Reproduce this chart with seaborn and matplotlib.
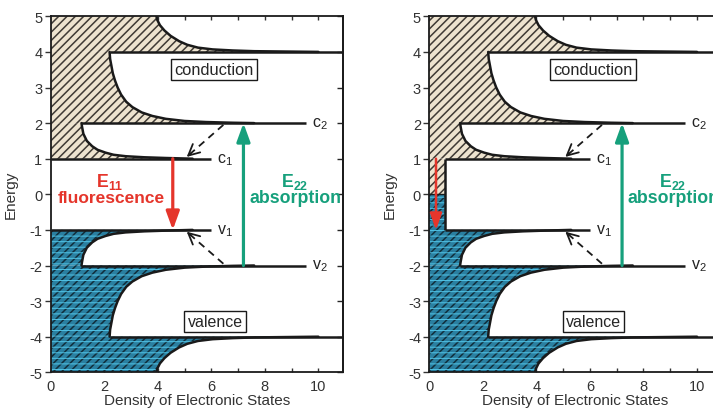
import numpy as np
import pandas as pd
import matplotlib
matplotlib.use("Agg")
import matplotlib.pyplot as plt
import seaborn as sns

sns.set_theme(style="ticks")
plt.rcParams['font.family'] = ['Liberation Sans', 'DejaVu Sans']
plt.rcParams['mathtext.fontset'] = 'custom'
plt.rcParams['mathtext.rm'] = 'Liberation Sans'
plt.rcParams['mathtext.it'] = 'Liberation Sans:italic'
plt.rcParams['mathtext.bf'] = 'Liberation Sans:bold'
plt.rcParams['axes.unicode_minus'] = False
plt.rcParams['hatch.linewidth'] = 1.1

# --- density of states edges (dos, energy) ---
# conduction band
c1_E = [2.0, 1.9, 1.7, 1.5, 1.35, 1.25, 1.17, 1.11, 1.07, 1.04, 1.02, 1.0]
c1_dos = [1.15, 1.17, 1.22, 1.35, 1.55, 1.75, 2.05, 2.35, 2.8, 3.5, 4.3, 5.3]
c2_E = [4.0, 3.8, 3.6, 3.4, 3.2, 3.0, 2.8, 2.6, 2.45, 2.3, 2.2, 2.12, 2.06, 2.03, 2.01, 2.0]
c2_dos = [2.2, 2.22, 2.27, 2.32, 2.40, 2.50, 2.63, 2.82, 3.05, 3.4, 3.8, 4.3, 5.0, 5.8, 6.8, 7.6]
c3_E = [5.0, 4.9, 4.75, 4.6, 4.45, 4.3, 4.2, 4.12, 4.07, 4.04, 4.02, 4.01, 4.0]
c3_dos = [3.95, 3.98, 4.08, 4.25, 4.48, 4.8, 5.1, 5.5, 6.05, 6.8, 7.6, 8.8, 10.0]
# valence band
v1_E = [-2.0, -1.9, -1.7, -1.5, -1.35, -1.25, -1.17, -1.11, -1.07, -1.04, -1.02, -1.0]
v1_dos = [1.15, 1.17, 1.22, 1.35, 1.55, 1.75, 2.05, 2.35, 2.8, 3.5, 4.3, 5.3]
v2_E = [-4.0, -3.8, -3.6, -3.4, -3.2, -3.0, -2.8, -2.6, -2.45, -2.3, -2.2, -2.12, -2.06, -2.03, -2.01, -2.0]
v2_dos = [2.2, 2.22, 2.27, 2.32, 2.40, 2.50, 2.63, 2.82, 3.05, 3.4, 3.8, 4.3, 5.0, 5.8, 6.8, 7.6]
v3_E = [-5.0, -4.9, -4.75, -4.6, -4.45, -4.3, -4.2, -4.12, -4.07, -4.04, -4.02, -4.01, -4.0]
v3_dos = [3.95, 3.98, 4.08, 4.25, 4.48, 4.8, 5.1, 5.5, 6.05, 6.8, 7.6, 8.8, 10.0]

# van Hove singularity lines: energy, start, end
level_E = [1, 2, 4, -1, -2, -4]
level_start = [0.0, 1.15, 2.2, 0.0, 1.15, 2.2]
level_end = [6.0, 9.55, 12.0, 6.0, 9.55, 12.0]
level_labels = ['c$_1$', 'c$_2$', None, 'v$_1$', 'v$_2$', None]

# metallic tube: constant DOS in the gap
metal_dos = 0.6

# transitions
e11_dos = 4.56
e22_dos = 7.2
metal_arrow_dos = 0.25

beige = '#ede3cf'
beige_hatch = '#3f3a35'
blue = '#2a7fa0'
blue_hatch = '#112e3b'
cyan = '#52c4e6'
red = '#e5352b'
green = '#16a07c'


def edges_frame():
    rows = []
    for name, E, d in [('c1', c1_E, c1_dos), ('c2', c2_E, c2_dos), ('c3', c3_E, c3_dos),
                       ('v1', v1_E, v1_dos), ('v2', v2_E, v2_dos), ('v3', v3_E, v3_dos)]:
        rows.append(pd.DataFrame({'energy': E, 'dos': d, 'segment': name}))
    return pd.concat(rows, ignore_index=True)


def fill_band(ax, E, d, conduction):
    if conduction:
        ax.fill_betweenx(E, 0, d, facecolor=beige, edgecolor=beige_hatch, hatch='////', lw=0)
    else:
        ax.fill_betweenx(E, 0, d, facecolor=blue, edgecolor=blue_hatch, hatch='////', lw=0)
        with plt.rc_context({'hatch.linewidth': 0.7}):
            ax.fill_betweenx(E, 0, d, facecolor='none', edgecolor=cyan, hatch='---', lw=0)


def draw_panel(ax, metallic):
    df = edges_frame()
    fill_band(ax, c1_E, c1_dos, True)
    fill_band(ax, c2_E, c2_dos, True)
    fill_band(ax, c3_E, c3_dos, True)
    fill_band(ax, v1_E, v1_dos, False)
    fill_band(ax, v2_E, v2_dos, False)
    fill_band(ax, v3_E, v3_dos, False)

    starts = list(level_start)
    if metallic:
        fill_band(ax, [0, 1], [metal_dos, metal_dos], True)
        fill_band(ax, [-1, 0], [metal_dos, metal_dos], False)
        starts = [metal_dos if abs(e) == 1 else s for e, s in zip(level_E, level_start)]
        ax.vlines(metal_dos, -1, 1, color='k', lw=1.8)
        ax.hlines(0, 0, metal_dos, color='k', lw=1.0)

    sns.lineplot(data=df, x='dos', y='energy', units='segment', estimator=None,
                 sort=False, color='k', lw=1.8, ax=ax, legend=False)
    ax.hlines(level_E, starts, level_end, color='k', lw=1.8)
    for e, end, lab in zip(level_E, level_end, level_labels):
        if lab:
            ax.text(end + 0.22, e, lab, fontsize=11.5, va='center', ha='left', color='#222222')

    # dashed relaxation arrows
    for sgn in (1, -1):
        start = (6.45, 1.95 * sgn)
        end = (5.08, 1.05 * sgn)
        ax.plot([start[0], end[0]], [start[1], end[1]], color='k', lw=1.3, ls=(0, (4, 3)))
        ax.annotate('', xy=end, xytext=(end[0] + 0.15, end[1] + 0.1 * sgn),
                    arrowprops=dict(arrowstyle='->,head_length=0.5,head_width=0.25',
                                    color='k', lw=1.3, shrinkA=0, shrinkB=0, mutation_scale=16))

    arrow = '-|>,head_length=0.55,head_width=0.2'
    ax.annotate('', xy=(e22_dos, 2), xytext=(e22_dos, -2),
                arrowprops=dict(arrowstyle=arrow, color=green, lw=2.3, shrinkA=0, shrinkB=0,
                                mutation_scale=20))
    ax.text(9.1, 0.38, 'E$_\\mathbf{22}$', color=green, fontsize=12.8, fontweight='bold',
            ha='center', va='center')
    ax.text(9.14, -0.1, 'absorption', color=green, fontsize=12.8, fontweight='bold',
            ha='center', va='center')

    if metallic:
        ax.annotate('', xy=(metal_arrow_dos, -1), xytext=(metal_arrow_dos, 1),
                    arrowprops=dict(arrowstyle=arrow, color=red, lw=1.8, shrinkA=0, shrinkB=0,
                                    mutation_scale=18))
    else:
        ax.annotate('', xy=(e11_dos, -1), xytext=(e11_dos, 1),
                    arrowprops=dict(arrowstyle=arrow, color=red, lw=2.3, shrinkA=0, shrinkB=0,
                                    mutation_scale=20))
        ax.text(2.22, 0.38, 'E$_\\mathbf{11}$', color=red, fontsize=12.8, fontweight='bold',
                ha='center', va='center')
        ax.text(2.25, -0.1, 'fluorescence', color=red, fontsize=12.5, fontweight='bold',
                ha='center', va='center')

    box = dict(boxstyle='square,pad=0.2', fc='white', ec='k', lw=1.0)
    ax.text(6.1, 3.5, 'conduction', fontsize=11.8, ha='center', va='center', bbox=box)
    ax.text(6.14, -3.58, 'valence', fontsize=11.5, ha='center', va='center', bbox=box)

    ax.set_xlim(0, 10.93)
    ax.set_ylim(-5, 5)
    ax.set_xticks(range(0, 11, 2))
    ax.set_xticks(range(0, 11), minor=True)
    ax.set_yticks(range(-5, 6))
    ax.tick_params(axis='x', which='both', direction='in', top=True, bottom=True,
                   length=3, width=1, labelsize=10.5, pad=5, colors='#333333')
    ax.tick_params(axis='y', direction='out', left=True, right=False, length=4, width=1,
                   labelsize=10.5, pad=2, colors='#333333')
    sec = ax.secondary_yaxis('right')
    sec.set_yticks(range(-5, 6))
    sec.tick_params(direction='in', length=4, width=1, labelright=False)
    for sp in list(ax.spines.values()) + [sec.spines['right']]:
        sp.set_color('k')
        sp.set_linewidth(1.3)
    ax.set_xlabel('Density of Electronic States', fontsize=11, labelpad=0, color='#333333')
    ax.set_ylabel('Energy', fontsize=11, labelpad=8, color='#333333')


fig = plt.figure(figsize=(7.13, 4.10), dpi=100)
ax1 = fig.add_axes([0.0711, 0.0895, 0.4104, 0.8683])
ax2 = fig.add_axes([0.6021, 0.0895, 0.4104, 0.8683])
draw_panel(ax1, metallic=False)
draw_panel(ax2, metallic=True)
fig.savefig('out.png', dpi=100)
